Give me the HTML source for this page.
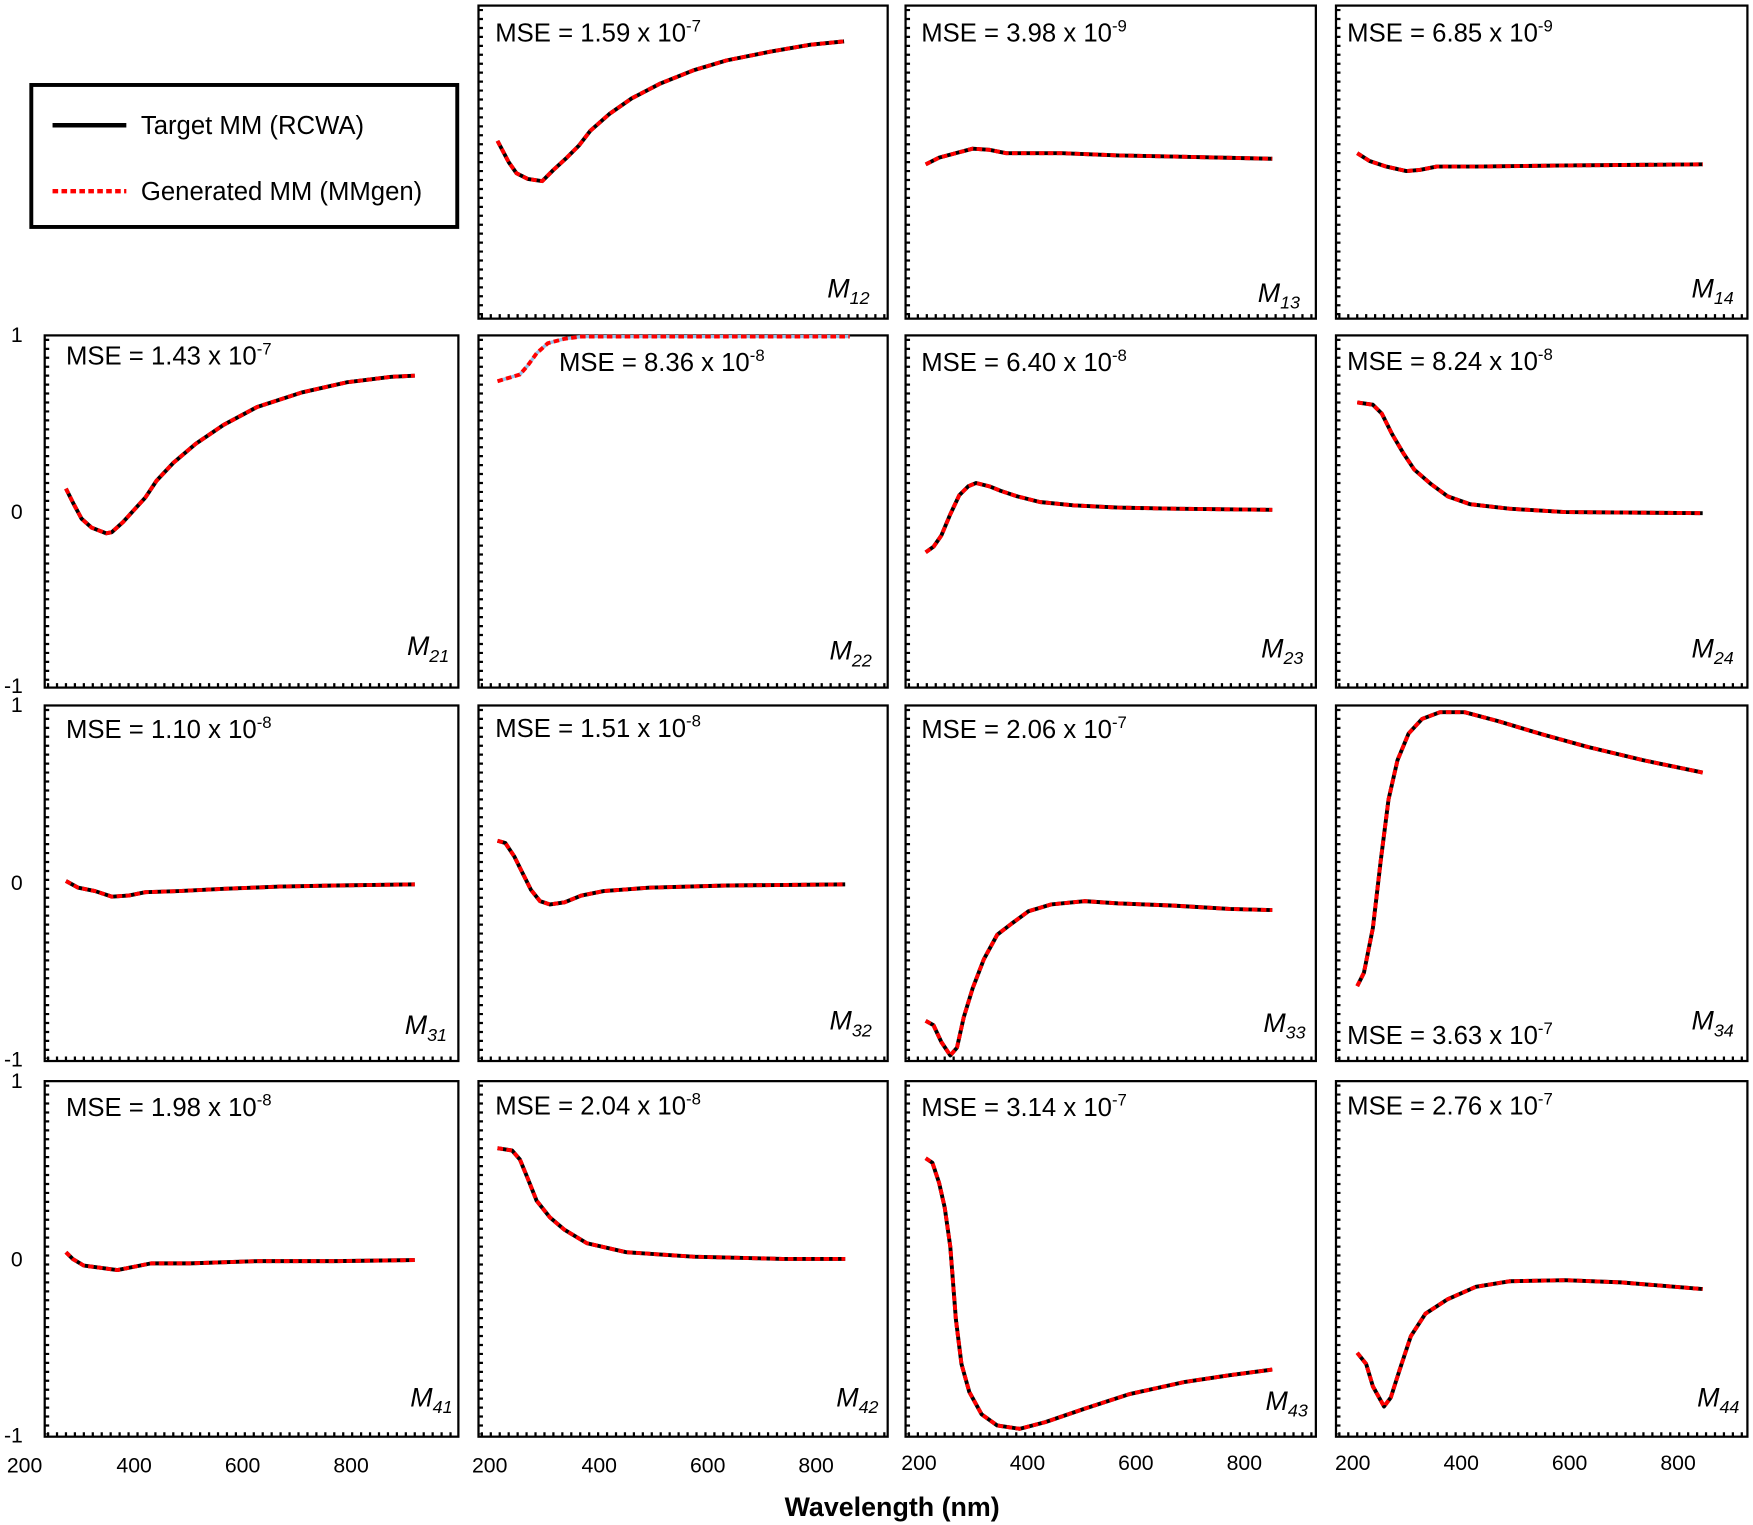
<!DOCTYPE html>
<html><head><meta charset="utf-8"><style>html,body{margin:0;padding:0;background:#fff}svg{display:block}</style></head>
<body>
<svg width="1753" height="1525" viewBox="0 0 1568 1364" preserveAspectRatio="none" xmlns="http://www.w3.org/2000/svg" font-family="Liberation Sans, Arial, sans-serif">
<g fill="none" stroke="#000" stroke-width="2">
<rect x="428" y="5" width="366" height="280"/>
<rect x="810" y="5" width="367" height="280"/>
<rect x="1195" y="5" width="368" height="280"/>
<rect x="40" y="300" width="370" height="315"/>
<rect x="428" y="300" width="366" height="315"/>
<rect x="810" y="300" width="367" height="315"/>
<rect x="1195" y="300" width="368" height="315"/>
<rect x="40" y="631" width="370" height="318"/>
<rect x="428" y="631" width="366" height="318"/>
<rect x="810" y="631" width="367" height="318"/>
<rect x="1195" y="631" width="368" height="318"/>
<rect x="40" y="967" width="370" height="318"/>
<rect x="428" y="967" width="366" height="318"/>
<rect x="810" y="967" width="367" height="318"/>
<rect x="1195" y="967" width="368" height="318"/>
<rect x="28" y="76" width="381" height="127" stroke-width="3.5"/>
</g>
<g fill="none" stroke="#000" stroke-width="4" stroke-dasharray="2 6">
<path d="M430 8V283M812 8V283M1197 8V283M42 303V613M430 303V613M812 303V613M1197 303V613M42 634V947M430 634V947M812 634V947M1197 634V947M42 970V1283M430 970V1283M812 970V1283M1197 970V1283"/>
<path d="M430 283H794M812 283H1177M1197 283H1563M42 613H410M430 613H794M812 613H1177M1197 613H1563M42 947H410M430 947H794M812 947H1177M1197 947H1563M42 1283H410M430 1283H794M812 1283H1177M1197 1283H1563"/>
</g>
<g fill="none" stroke-linejoin="round">
<g stroke="#000" stroke-width="3.5">
<polyline id="c12" points="445,126 455,145 462,155 472,160 485,162 495,152 507,141 518,130 528,117 545,102 565,88 590,75 620,63 650,54 690,46 725,40 755,37"/>
<polyline id="c13" points="828,147 840,141 855,137 870,133 885,134 900,137 950,137 1000,139 1050,140 1138,142"/>
<polyline id="c14" points="1214,137 1225,144 1240,149 1258,153 1270,152 1285,149 1320,149 1400,148 1523,147"/>
<polyline id="c21" points="59,437 66,451 73,464 82,472 95,477 100,476 110,467 120,456 130,445 140,430 155,414 175,397 200,380 230,364 270,351 310,342 350,337 371,336"/>
<polyline id="c23" points="828,494 835,489 842,479 850,460 858,443 866,435 873,432 885,435 895,439 910,444 930,449 960,452 1000,454 1050,455 1138,456"/>
<polyline id="c24" points="1214,360 1228,362 1236,370 1245,388 1255,405 1265,420 1280,433 1295,444 1315,451 1350,455 1400,458 1523,459"/>
<polyline id="c31" points="59,788 70,794 85,797 100,802 115,801 130,798 160,797 200,795 250,793 300,792 371,791"/>
<polyline id="c32" points="445,752 452,754 460,766 467,780 475,796 483,806 492,809 505,807 520,801 540,797 580,794 650,792 756,791"/>
<polyline id="c33" points="828,913 835,917 842,932 850,944 856,937 862,910 870,884 880,858 892,836 905,826 920,815 940,809 970,806 1000,808 1050,810 1100,813 1138,814"/>
<polyline id="c34" points="1214,882 1220,870 1228,830 1235,770 1242,715 1250,680 1260,656 1272,643 1288,637 1310,637 1340,645 1380,657 1420,668 1470,680 1523,691"/>
<polyline id="c41" points="59,1120 65,1126 75,1132 90,1134 105,1136 120,1133 135,1130 170,1130 230,1128 300,1128 371,1127"/>
<polyline id="c42" points="445,1027 458,1029 465,1037 472,1054 480,1074 492,1089 505,1100 525,1112 560,1120 620,1124 700,1126 756,1126"/>
<polyline id="c43" points="828,1036 834,1040 840,1058 845,1080 850,1115 855,1180 860,1220 867,1245 878,1265 892,1275 912,1278 935,1272 970,1260 1010,1247 1060,1236 1100,1230 1138,1225"/>
<polyline id="c44" points="1214,1210 1222,1220 1228,1240 1238,1258 1244,1250 1252,1225 1262,1195 1275,1175 1295,1162 1320,1151 1350,1146 1400,1145 1450,1147 1523,1153"/>
</g>
<polyline points="445,341 455,338 465,335 472,327 480,316 490,307 505,303 520,301 760,301" stroke="#8fc3ea" stroke-width="3"/>
<g stroke="#f00" stroke-width="3.5" stroke-dasharray="5 3">
<use href="#c12"/><use href="#c13"/><use href="#c14"/><use href="#c21"/><use href="#c23"/><use href="#c24"/><use href="#c31"/><use href="#c32"/><use href="#c33"/><use href="#c34"/><use href="#c41"/><use href="#c42"/><use href="#c43"/><use href="#c44"/>
<polyline points="445,341 455,338 465,335 472,327 480,316 490,307 505,303 520,301 760,301"/>
</g>
<line x1="47" y1="112" x2="113" y2="112" stroke="#000" stroke-width="4"/>
<line x1="47" y1="171" x2="113" y2="171" stroke="#f00" stroke-width="4" stroke-dasharray="5 3"/>
</g>
<g font-size="23" fill="#000">
<text x="126" y="120">Target MM (RCWA)</text>
<text x="126" y="179">Generated MM (MMgen)</text>
<text x="443" y="37">MSE = 1.59 x 10<tspan font-size="15" dy="-9">-7</tspan></text>
<text x="824" y="37">MSE = 3.98 x 10<tspan font-size="15" dy="-9">-9</tspan></text>
<text x="1205" y="37">MSE = 6.85 x 10<tspan font-size="15" dy="-9">-9</tspan></text>
<text x="59" y="326">MSE = 1.43 x 10<tspan font-size="15" dy="-9">-7</tspan></text>
<text x="500" y="332">MSE = 8.36 x 10<tspan font-size="15" dy="-9">-8</tspan></text>
<text x="824" y="332">MSE = 6.40 x 10<tspan font-size="15" dy="-9">-8</tspan></text>
<text x="1205" y="331">MSE = 8.24 x 10<tspan font-size="15" dy="-9">-8</tspan></text>
<text x="59" y="660">MSE = 1.10 x 10<tspan font-size="15" dy="-9">-8</tspan></text>
<text x="443" y="659">MSE = 1.51 x 10<tspan font-size="15" dy="-9">-8</tspan></text>
<text x="824" y="660">MSE = 2.06 x 10<tspan font-size="15" dy="-9">-7</tspan></text>
<text x="1205" y="934">MSE = 3.63 x 10<tspan font-size="15" dy="-9">-7</tspan></text>
<text x="59" y="998">MSE = 1.98 x 10<tspan font-size="15" dy="-9">-8</tspan></text>
<text x="443" y="997">MSE = 2.04 x 10<tspan font-size="15" dy="-9">-8</tspan></text>
<text x="824" y="998">MSE = 3.14 x 10<tspan font-size="15" dy="-9">-7</tspan></text>
<text x="1205" y="997">MSE = 2.76 x 10<tspan font-size="15" dy="-9">-7</tspan></text>
</g>
<g font-size="24" font-style="italic" fill="#000">
<text x="740" y="266">M<tspan font-size="16" dy="6">12</tspan></text>
<text x="1125" y="270">M<tspan font-size="16" dy="6">13</tspan></text>
<text x="1513" y="266">M<tspan font-size="16" dy="6">14</tspan></text>
<text x="364" y="586">M<tspan font-size="16" dy="6">21</tspan></text>
<text x="742" y="590">M<tspan font-size="16" dy="6">22</tspan></text>
<text x="1128" y="588">M<tspan font-size="16" dy="6">23</tspan></text>
<text x="1513" y="588">M<tspan font-size="16" dy="6">24</tspan></text>
<text x="362" y="925">M<tspan font-size="16" dy="6">31</tspan></text>
<text x="742" y="921">M<tspan font-size="16" dy="6">32</tspan></text>
<text x="1130" y="923">M<tspan font-size="16" dy="6">33</tspan></text>
<text x="1513" y="921">M<tspan font-size="16" dy="6">34</tspan></text>
<text x="367" y="1258">M<tspan font-size="16" dy="6">41</tspan></text>
<text x="748" y="1258">M<tspan font-size="16" dy="6">42</tspan></text>
<text x="1132" y="1261">M<tspan font-size="16" dy="6">43</tspan></text>
<text x="1518" y="1258">M<tspan font-size="16" dy="6">44</tspan></text>
</g>
<g font-size="19" fill="#000" text-anchor="middle">
<text x="15" y="306">1</text><text x="15" y="464">0</text><text x="12" y="620">-1</text>
<text x="15" y="637">1</text><text x="15" y="796">0</text><text x="12" y="954">-1</text>
<text x="15" y="973">1</text><text x="15" y="1133">0</text><text x="12" y="1290">-1</text>
<text x="22" y="1317">200</text><text x="120" y="1317">400</text><text x="217" y="1317">600</text><text x="314" y="1317">800</text>
<text x="438" y="1317">200</text><text x="536" y="1317">400</text><text x="633" y="1317">600</text><text x="730" y="1317">800</text>
<text x="822" y="1315">200</text><text x="919" y="1315">400</text><text x="1016" y="1315">600</text><text x="1113" y="1315">800</text>
<text x="1210" y="1315">200</text><text x="1307" y="1315">400</text><text x="1404" y="1315">600</text><text x="1501" y="1315">800</text>
<text x="798" y="1356" font-size="24" font-weight="bold">Wavelength (nm)</text>
</g>
</svg>
</body></html>
